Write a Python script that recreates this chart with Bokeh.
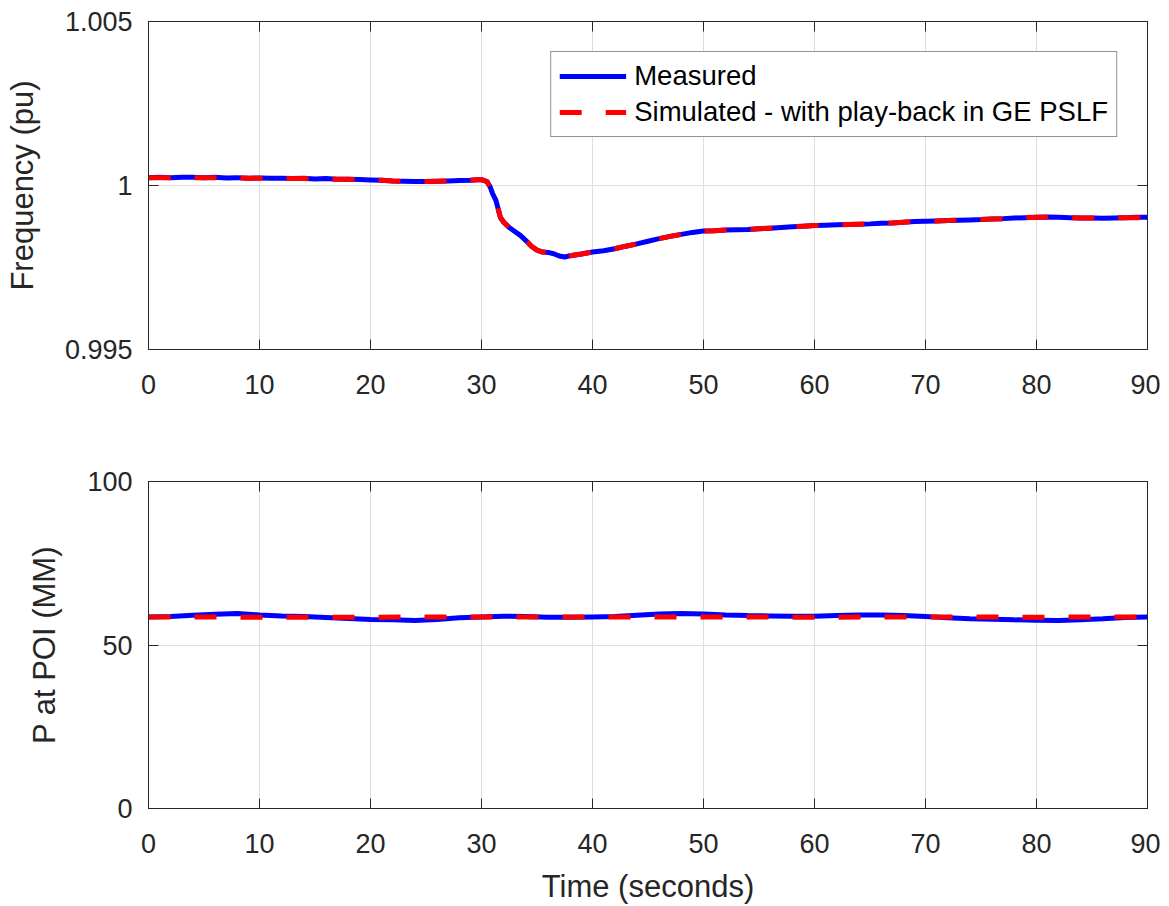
from bokeh.plotting import figure
from bokeh.layouts import column
from bokeh.models import Range1d, FixedTicker, LinearAxis, Legend, LegendItem
from bokeh.embed import file_html
from bokeh.resources import INLINE

# ---------------- data ----------------
x_ticks = [0, 10, 20, 30, 40, 50, 60, 70, 80, 90]
freq_ticks = [0.995, 1.0, 1.005]
freq_tick_labels = ["0.995", "1", "1.005"]
p_ticks = [0, 50, 100]
p_tick_labels = ["0", "50", "100"]

freq_time = list(range(0, 31)) + [30.5, 30.8, 31.0, 31.3, 31.7, 32.0, 32.5, 33.0, 33.5,
                                  34.0, 34.5, 35.0, 35.5, 36.0, 36.5, 37.0, 37.5, 38.0] + list(range(39, 91))

freq_measured = [
    1.00024, 1.00025, 1.00024, 1.00025, 1.00025, 1.00024, 1.00025, 1.00023, 1.00024, 1.00022,
    1.00023, 1.00022, 1.00022, 1.00021, 1.00022, 1.00020, 1.00021, 1.00019, 1.00019, 1.00018,
    1.00017, 1.00016, 1.00014, 1.00013, 1.00012, 1.00012, 1.00013, 1.00014, 1.00015, 1.00016,
    1.00018,
    1.00012, 0.99994, 0.99975, 0.99955, 0.99903, 0.99888, 0.99872, 0.99860, 0.99848,
    0.99832, 0.99815, 0.99803, 0.99797, 0.99796, 0.99792, 0.99785, 0.99782, 0.99786,
    0.99791, 0.99797, 0.99801, 0.99807, 0.99815, 0.99822, 0.99830, 0.99838, 0.99845, 0.99851,
    0.99857, 0.99861, 0.99862, 0.99864, 0.99865, 0.99866, 0.99868, 0.99870, 0.99872, 0.99874,
    0.99876, 0.99878, 0.99879, 0.99880, 0.99881, 0.99882, 0.99883, 0.99885, 0.99886, 0.99888,
    0.99890, 0.99891, 0.99892, 0.99893, 0.99894, 0.99895, 0.99896, 0.99898, 0.99899, 0.99901,
    0.99902, 0.99903, 0.99904, 0.99903, 0.99902, 0.99901, 0.99901, 0.99900, 0.99901, 0.99902,
    0.99903, 0.99903,
]

freq_simulated = [
    1.00024, 1.00024, 1.00024, 1.00024, 1.00024, 1.00024, 1.00024, 1.00023, 1.00023, 1.00022,
    1.00022, 1.00022, 1.00022, 1.00021, 1.00021, 1.00020, 1.00020, 1.00019, 1.00019, 1.00018,
    1.00017, 1.00016, 1.00014, 1.00013, 1.00012, 1.00012, 1.00013, 1.00014, 1.00015, 1.00016,
    1.00018,
    1.00012, 0.99994, 0.99975, 0.99955, 0.99903, 0.99888, 0.99872, 0.99860, 0.99848,
    0.99832, 0.99815, 0.99803, 0.99797, 0.99796, 0.99792, 0.99785, 0.99782, 0.99786,
    0.99791, 0.99797, 0.99801, 0.99807, 0.99815, 0.99822, 0.99830, 0.99838, 0.99845, 0.99851,
    0.99857, 0.99861, 0.99862, 0.99864, 0.99865, 0.99866, 0.99868, 0.99870, 0.99872, 0.99874,
    0.99876, 0.99878, 0.99879, 0.99880, 0.99881, 0.99882, 0.99883, 0.99885, 0.99886, 0.99888,
    0.99890, 0.99891, 0.99892, 0.99893, 0.99894, 0.99895, 0.99896, 0.99898, 0.99899, 0.99901,
    0.99902, 0.99903, 0.99903, 0.99903, 0.99902, 0.99901, 0.99901, 0.99901, 0.99901, 0.99902,
    0.99902, 0.99903,
]

p_time = [0, 2, 4, 6, 8, 10, 12, 14, 16, 18, 20, 22, 24, 26, 28, 30, 32, 34, 36, 38, 40, 42, 44,
          46, 48, 50, 52, 54, 56, 58, 60, 62, 64, 66, 68, 70, 72, 74, 76, 78, 80, 82, 84, 86, 88, 90]
p_measured = [58.6, 58.7, 59.1, 59.4, 59.6, 59.2, 58.9, 58.7, 58.4, 58.1, 57.8, 57.7, 57.5, 57.8,
              58.3, 58.6, 58.8, 58.7, 58.5, 58.5, 58.6, 58.7, 59.1, 59.5, 59.6, 59.5, 59.2, 59.0,
              58.9, 58.8, 58.8, 59.0, 59.2, 59.2, 59.0, 58.7, 58.3, 58.0, 57.9, 57.7, 57.6, 57.5,
              57.7, 58.0, 58.4, 58.6]
p_sim_time = [0, 10, 20, 30, 40, 50, 60, 70, 80, 90]
p_simulated = [58.6, 58.5, 58.5, 58.6, 58.6, 58.6, 58.5, 58.6, 58.5, 58.6]

# ---------------- style ----------------
FONT = "Liberation Sans"
AX = "#262626"
GRID = "#dedede"
BLUE = "#0000ff"
RED = "#ff0000"
LW = 5
DASH = "22 24"


def style_axis(ax, ticks, labels=None, standoff=18):
    ax.ticker = FixedTicker(ticks=ticks)
    if labels is not None:
        ax.major_label_overrides = {t: l for t, l in zip(ticks, labels)}
    ax.axis_line_color = AX
    ax.axis_line_width = 1
    ax.major_tick_line_color = AX
    ax.major_tick_in = 10
    ax.major_tick_out = 0
    ax.minor_tick_in = 0
    ax.minor_tick_out = 0
    ax.minor_tick_line_color = None
    ax.major_label_text_font = FONT
    ax.major_label_text_font_size = "27px"
    ax.major_label_text_color = AX
    ax.major_label_standoff = standoff
    ax.axis_label_text_font = FONT
    ax.axis_label_text_font_size = "31px"
    ax.axis_label_text_font_style = "normal"
    ax.axis_label_text_color = AX


def add_box_axes(p, yticks):
    top = LinearAxis(ticker=FixedTicker(ticks=x_ticks))
    right = LinearAxis(ticker=FixedTicker(ticks=yticks))
    for ax in (top, right):
        ax.axis_line_color = AX
        ax.major_tick_line_color = AX
        ax.major_tick_in = 10
        ax.major_tick_out = 0
        ax.minor_tick_in = 0
        ax.minor_tick_out = 0
        ax.minor_tick_line_color = None
        ax.major_label_text_font_size = "0px"
        ax.major_label_standoff = 0
        ax.major_label_text_alpha = 0
    p.add_layout(top, "above")
    p.add_layout(right, "right")


def make_fig(height, yr, top_border, bottom_border):
    p = figure(width=1160, height=height, x_range=Range1d(0, 90), y_range=yr,
               output_backend="svg", toolbar_location=None,
               min_border_left=148, min_border_right=13,
               min_border_top=top_border, min_border_bottom=bottom_border)
    p.background_fill_color = "white"
    p.border_fill_color = "white"
    p.outline_line_color = AX
    p.outline_line_width = 1
    p.xgrid.grid_line_color = GRID
    p.ygrid.grid_line_color = GRID
    p.xgrid.grid_line_width = 1
    p.ygrid.grid_line_width = 1
    return p


# ---------------- top: frequency ----------------
p1 = make_fig(408, Range1d(0.995, 1.005), 21, 59)
style_axis(p1.xaxis[0], x_ticks, standoff=25)
style_axis(p1.yaxis[0], freq_ticks, freq_tick_labels, standoff=16)
p1.xgrid.ticker = FixedTicker(ticks=x_ticks)
p1.ygrid.ticker = FixedTicker(ticks=freq_ticks)
p1.yaxis[0].axis_label = "Frequency (pu)"
p1.yaxis[0].axis_label_standoff = 22
add_box_axes(p1, freq_ticks)

m1 = p1.line(freq_time, freq_measured, line_color=BLUE, line_width=LW)
s1 = p1.line(freq_time, freq_simulated, line_color=RED, line_width=LW, line_dash=DASH)

legend = Legend(items=[LegendItem(label="Measured", renderers=[m1]),
                       LegendItem(label="Simulated - with play-back in GE PSLF", renderers=[s1])],
                location="top_right")
legend.margin = 30
legend.padding = 8
legend.spacing = 4
legend.glyph_width = 67
legend.glyph_height = 32
legend.label_standoff = 8
legend.label_text_font = FONT
legend.label_text_font_size = "27.5px"
legend.label_text_color = "#000000"
legend.border_line_color = AX
legend.border_line_width = 1
legend.background_fill_color = "white"
legend.background_fill_alpha = 1
p1.add_layout(legend)

# ---------------- bottom: power ----------------
p2 = make_fig(498, Range1d(0, 100), 73, 90)
style_axis(p2.xaxis[0], x_ticks, standoff=25)
style_axis(p2.yaxis[0], p_ticks, p_tick_labels, standoff=16)
p2.xgrid.ticker = FixedTicker(ticks=x_ticks)
p2.ygrid.ticker = FixedTicker(ticks=p_ticks)
p2.yaxis[0].axis_label = "P at POI (MM)"
p2.yaxis[0].axis_label_standoff = 22
p2.xaxis[0].axis_label = "Time (seconds)"
p2.xaxis[0].axis_label_standoff = 13
add_box_axes(p2, p_ticks)

p2.line(p_time, p_measured, line_color=BLUE, line_width=LW)
p2.line(p_sim_time, p_simulated, line_color=RED, line_width=LW, line_dash=DASH)

layout = column(p1, p2, spacing=0)
open("out.html", "w").write(file_html(layout, INLINE))
